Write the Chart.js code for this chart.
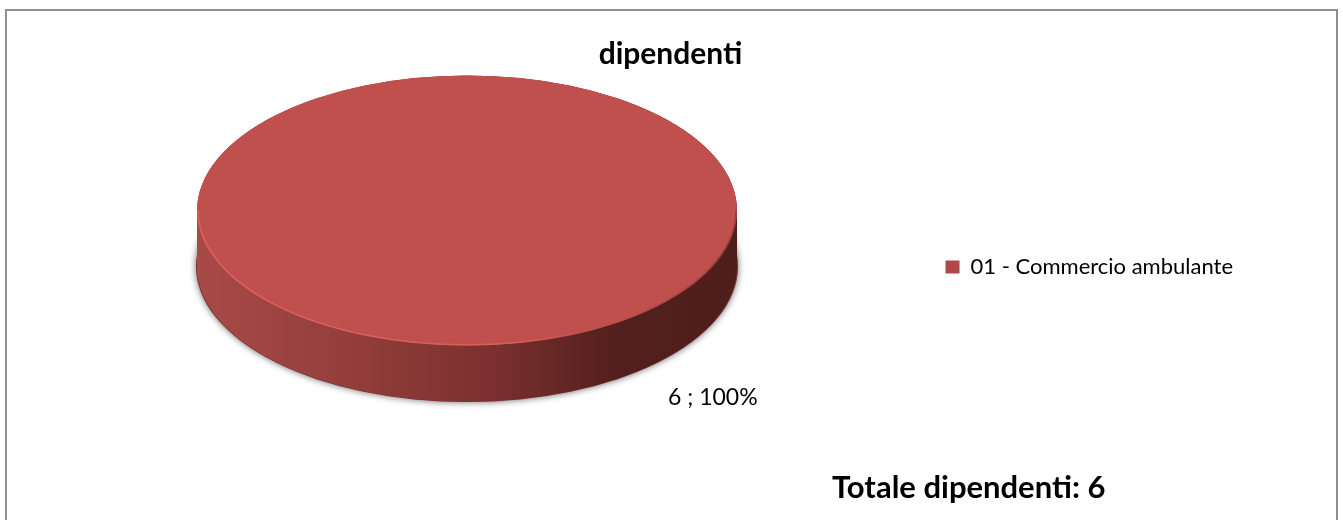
<!DOCTYPE html>
<html>
<head>
<meta charset="utf-8">
<script src="https://cdn.jsdelivr.net/npm/chart.js@4"></script>
<style>
html,body{margin:0;padding:0;background:#fff;width:1343px;height:520px;overflow:hidden}
#frame{position:absolute;left:5px;top:9px;width:1329px;height:530px;border:2px solid #8f8f8f;box-sizing:content-box}
canvas{position:absolute;left:0;top:0}
</style>
</head>
<body>
<div id="frame"></div>
<canvas id="c" width="1343" height="520"></canvas>
<script>
const chartTitle = 'dipendenti';
const categories = ['01 - Commercio ambulante'];
const values = [6];
const percentLabels = ['6 ; 100%'];
const totalLabel = 'Totale dipendenti: 6';
const sliceColors = ['#C0504D'];

const FONT = 'Lato, Carlito, sans-serif';
const pieStyle = {cx: 467, cy: 210.5, radius: 270, squash: 0.5, depth: 56};

const disc3d = {
  id: 'disc3d',
  beforeDatasetsDraw(chart) {
    const ctx = chart.ctx, arc = chart.getDatasetMeta(0).data[0];
    const {cx, cy, squash, depth} = pieStyle, r = arc.outerRadius, ry = r * squash;
    const g = ctx.createLinearGradient(cx - r, 0, cx + r, 0);
    g.addColorStop(0, '#A84A48');
    g.addColorStop(0.3, '#923D3A');
    g.addColorStop(0.55, '#7A302E');
    g.addColorStop(0.78, '#521F1C');
    g.addColorStop(1, '#4E1E1B');
    ctx.save();
    ctx.shadowColor = 'rgba(0,0,0,0.6)';
    ctx.shadowBlur = 7;
    ctx.fillStyle = '#7A302E';
    ctx.beginPath();
    ctx.ellipse(cx, cy + depth, r + 1, ry + 0.5, 0, 0, Math.PI * 2, false);
    ctx.closePath();
    ctx.fill();
    ctx.restore();
    ctx.save();
    ctx.fillStyle = g;
    ctx.beginPath();
    ctx.ellipse(cx, cy, r, ry, 0, Math.PI, 0, false);
    ctx.lineTo(cx + r, cy + depth);
    ctx.ellipse(cx, cy + depth, r, ry, 0, 0, Math.PI, false);
    ctx.closePath();
    ctx.fill();
    ctx.restore();
    ctx.save();
    ctx.translate(cx, cy);
    ctx.scale(1, squash);
    ctx.translate(-arc.x, -arc.y);
  },
  afterDatasetsDraw(chart) {
    const ctx = chart.ctx, arc = chart.getDatasetMeta(0).data[0];
    ctx.restore();
    const {cx, cy, squash} = pieStyle, r = arc.outerRadius - 1, ry = r * squash;
    ctx.save();
    ctx.lineWidth = 1.5;
    const rim = ctx.createLinearGradient(cx - r, 0, cx + r, 0);
    rim.addColorStop(0, 'rgba(226,100,96,0.85)');
    rim.addColorStop(0.6, 'rgba(226,100,96,0.7)');
    rim.addColorStop(1, 'rgba(120,50,46,0.6)');
    ctx.strokeStyle = rim;
    ctx.beginPath();
    ctx.ellipse(cx, cy, r, ry, 0, 0, Math.PI, false);
    ctx.stroke();
    ctx.restore();
  },
  afterDraw(chart) {
    const ctx = chart.ctx;
    ctx.save();
    ctx.fillStyle = '#000';
    ctx.textBaseline = 'middle';
    ctx.textAlign = 'left';
    ctx.font = '23px ' + FONT;
    ctx.fillText(percentLabels[0], 668, 398);
    ctx.font = 'bold 31px ' + FONT;
    ctx.fillText(totalLabel, 832, 488);
    ctx.restore();
  }
};

new Chart(document.getElementById('c'), {
  type: 'pie',
  data: {
    labels: categories,
    datasets: [{data: values, backgroundColor: sliceColors, borderWidth: 0, clip: false}]
  },
  options: {
    responsive: false,
    animation: false,
    radius: pieStyle.radius,
    layout: {padding: {left: 98, right: 100, top: 14, bottom: 0}},
    plugins: {
      title: {display: true, text: chartTitle, color: '#000', font: {family: FONT, size: 30, weight: 'bold'}, padding: {top: 22, bottom: 6}},
      legend: {
        display: true,
        position: 'right',
        labels: {color: '#000', boxWidth: 14, boxHeight: 13, padding: 6, font: {family: FONT, size: 22},
          generateLabels(chart) {
            const items = Chart.overrides.pie.plugins.legend.labels.generateLabels(chart);
            items.forEach(it => { it.fillStyle = '#B04946'; it.strokeStyle = '#A04240'; });
            return items;
          }
        }
      },
      tooltip: {enabled: false}
    }
  },
  plugins: [disc3d]
});
</script>
</body>
</html>
